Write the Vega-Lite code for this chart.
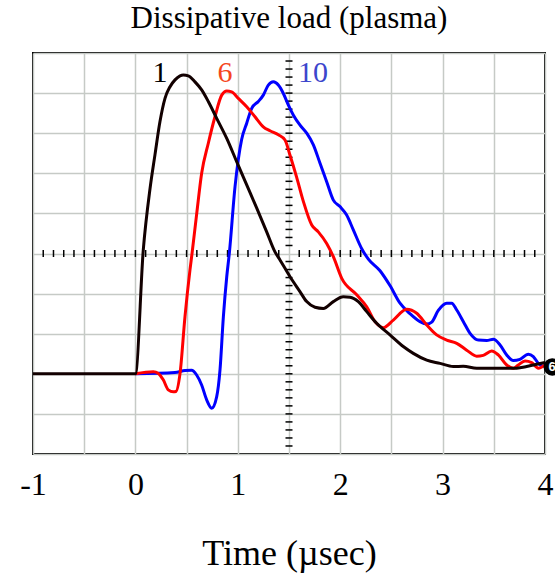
{
  "$schema": "https://vega.github.io/schema/vega-lite/v6.json",
  "autosize": {"type": "none"},
  "width": 512,
  "height": 401,
  "padding": {"left": 33, "top": 53, "right": 10, "bottom": 123},
  "background": "white",
  "title": {
    "text": "Dissipative load (plasma)",
    "font": "Liberation Serif, Times New Roman, serif",
    "fontSize": 31,
    "fontWeight": "normal",
    "color": "black",
    "baseline": "alphabetic",
    "anchor": "middle",
    "offset": -6
  },
  "config": {
    "view": {"stroke": "black", "strokeWidth": 2},
    "title": {"font": "Liberation Serif, Times New Roman, serif"},
    "text": {"font": "Liberation Serif, Times New Roman, serif"},
    "axis": {"gridColor": "#c6cac6", "gridWidth": 1.5, "gridOpacity": 1}
  },
  "datasets": {
    "curves": [
      {"t": -1, "v": 2.0, "s": "1"},
      {"t": 0.0, "v": 2.0, "s": "1"},
      {"t": 0.077, "v": 5.09, "s": "1"},
      {"t": 0.143, "v": 6.62, "s": "1"},
      {"t": 0.191, "v": 7.46, "s": "1"},
      {"t": 0.24, "v": 8.29, "s": "1"},
      {"t": 0.289, "v": 8.87, "s": "1"},
      {"t": 0.338, "v": 9.16, "s": "1"},
      {"t": 0.387, "v": 9.33, "s": "1"},
      {"t": 0.436, "v": 9.43, "s": "1"},
      {"t": 0.468, "v": 9.45, "s": "1"},
      {"t": 0.517, "v": 9.43, "s": "1"},
      {"t": 0.582, "v": 9.28, "s": "1"},
      {"t": 0.647, "v": 9.08, "s": "1"},
      {"t": 0.712, "v": 8.79, "s": "1"},
      {"t": 0.794, "v": 8.37, "s": "1"},
      {"t": 0.892, "v": 7.87, "s": "1"},
      {"t": 0.989, "v": 7.29, "s": "1"},
      {"t": 1.087, "v": 6.71, "s": "1"},
      {"t": 1.185, "v": 6.13, "s": "1"},
      {"t": 1.282, "v": 5.54, "s": "1"},
      {"t": 1.363, "v": 5.04, "s": "1"},
      {"t": 1.412, "v": 4.84, "s": "1"},
      {"t": 1.51, "v": 4.42, "s": "1"},
      {"t": 1.607, "v": 4.05, "s": "1"},
      {"t": 1.673, "v": 3.8, "s": "1"},
      {"t": 1.754, "v": 3.66, "s": "1"},
      {"t": 1.835, "v": 3.63, "s": "1"},
      {"t": 1.933, "v": 3.8, "s": "1"},
      {"t": 2.03, "v": 3.92, "s": "1"},
      {"t": 2.096, "v": 3.91, "s": "1"},
      {"t": 2.177, "v": 3.8, "s": "1"},
      {"t": 2.259, "v": 3.55, "s": "1"},
      {"t": 2.356, "v": 3.26, "s": "1"},
      {"t": 2.486, "v": 2.97, "s": "1"},
      {"t": 2.616, "v": 2.68, "s": "1"},
      {"t": 2.714, "v": 2.51, "s": "1"},
      {"t": 2.845, "v": 2.34, "s": "1"},
      {"t": 2.975, "v": 2.26, "s": "1"},
      {"t": 3.104, "v": 2.18, "s": "1"},
      {"t": 3.202, "v": 2.19, "s": "1"},
      {"t": 3.333, "v": 2.14, "s": "1"},
      {"t": 3.561, "v": 2.14, "s": "1"},
      {"t": 3.724, "v": 2.14, "s": "1"},
      {"t": 3.821, "v": 2.18, "s": "1"},
      {"t": 3.919, "v": 2.24, "s": "1"},
      {"t": 4.0, "v": 2.28, "s": "1"},

      {"t": 0.0, "v": 2.0, "s": "6"},
      {"t": 0.175, "v": 2.05, "s": "6"},
      {"t": 0.224, "v": 2.01, "s": "6"},
      {"t": 0.272, "v": 1.85, "s": "6"},
      {"t": 0.321, "v": 1.6, "s": "6"},
      {"t": 0.37, "v": 1.55, "s": "6"},
      {"t": 0.396, "v": 1.56, "s": "6"},
      {"t": 0.436, "v": 2.01, "s": "6"},
      {"t": 0.484, "v": 3.42, "s": "6"},
      {"t": 0.533, "v": 4.59, "s": "6"},
      {"t": 0.553, "v": 5.0, "s": "6"},
      {"t": 0.599, "v": 6.0, "s": "6"},
      {"t": 0.647, "v": 7.0, "s": "6"},
      {"t": 0.712, "v": 7.75, "s": "6"},
      {"t": 0.777, "v": 8.41, "s": "6"},
      {"t": 0.843, "v": 8.95, "s": "6"},
      {"t": 0.892, "v": 9.05, "s": "6"},
      {"t": 0.94, "v": 9.03, "s": "6"},
      {"t": 1.005, "v": 8.87, "s": "6"},
      {"t": 1.087, "v": 8.66, "s": "6"},
      {"t": 1.168, "v": 8.41, "s": "6"},
      {"t": 1.249, "v": 8.16, "s": "6"},
      {"t": 1.314, "v": 8.06, "s": "6"},
      {"t": 1.396, "v": 7.96, "s": "6"},
      {"t": 1.461, "v": 7.83, "s": "6"},
      {"t": 1.51, "v": 7.45, "s": "6"},
      {"t": 1.575, "v": 6.9, "s": "6"},
      {"t": 1.64, "v": 6.3, "s": "6"},
      {"t": 1.722, "v": 5.71, "s": "6"},
      {"t": 1.786, "v": 5.54, "s": "6"},
      {"t": 1.868, "v": 5.25, "s": "6"},
      {"t": 1.933, "v": 4.92, "s": "6"},
      {"t": 2.015, "v": 4.38, "s": "6"},
      {"t": 2.161, "v": 3.97, "s": "6"},
      {"t": 2.259, "v": 3.67, "s": "6"},
      {"t": 2.34, "v": 3.3, "s": "6"},
      {"t": 2.421, "v": 3.15, "s": "6"},
      {"t": 2.519, "v": 3.34, "s": "6"},
      {"t": 2.649, "v": 3.61, "s": "6"},
      {"t": 2.747, "v": 3.51, "s": "6"},
      {"t": 2.845, "v": 3.22, "s": "6"},
      {"t": 2.942, "v": 2.97, "s": "6"},
      {"t": 3.04, "v": 2.84, "s": "6"},
      {"t": 3.138, "v": 2.76, "s": "6"},
      {"t": 3.235, "v": 2.59, "s": "6"},
      {"t": 3.333, "v": 2.44, "s": "6"},
      {"t": 3.397, "v": 2.46, "s": "6"},
      {"t": 3.479, "v": 2.57, "s": "6"},
      {"t": 3.544, "v": 2.47, "s": "6"},
      {"t": 3.626, "v": 2.22, "s": "6"},
      {"t": 3.69, "v": 2.14, "s": "6"},
      {"t": 3.739, "v": 2.22, "s": "6"},
      {"t": 3.805, "v": 2.32, "s": "6"},
      {"t": 3.87, "v": 2.28, "s": "6"},
      {"t": 3.935, "v": 2.14, "s": "6"},
      {"t": 4.0, "v": 2.22, "s": "6"},

      {"t": 0.0, "v": 2.0, "s": "10"},
      {"t": 0.386, "v": 2.03, "s": "10"},
      {"t": 0.484, "v": 2.08, "s": "10"},
      {"t": 0.549, "v": 2.09, "s": "10"},
      {"t": 0.598, "v": 1.97, "s": "10"},
      {"t": 0.647, "v": 1.72, "s": "10"},
      {"t": 0.696, "v": 1.35, "s": "10"},
      {"t": 0.745, "v": 1.14, "s": "10"},
      {"t": 0.794, "v": 1.43, "s": "10"},
      {"t": 0.826, "v": 2.09, "s": "10"},
      {"t": 0.859, "v": 3.42, "s": "10"},
      {"t": 0.892, "v": 4.42, "s": "10"},
      {"t": 0.917, "v": 5.0, "s": "10"},
      {"t": 0.973, "v": 6.67, "s": "10"},
      {"t": 1.038, "v": 7.85, "s": "10"},
      {"t": 1.087, "v": 8.25, "s": "10"},
      {"t": 1.136, "v": 8.62, "s": "10"},
      {"t": 1.2, "v": 8.79, "s": "10"},
      {"t": 1.249, "v": 8.95, "s": "10"},
      {"t": 1.298, "v": 9.2, "s": "10"},
      {"t": 1.347, "v": 9.28, "s": "10"},
      {"t": 1.396, "v": 9.2, "s": "10"},
      {"t": 1.445, "v": 8.99, "s": "10"},
      {"t": 1.494, "v": 8.7, "s": "10"},
      {"t": 1.543, "v": 8.45, "s": "10"},
      {"t": 1.608, "v": 8.2, "s": "10"},
      {"t": 1.673, "v": 8.0, "s": "10"},
      {"t": 1.738, "v": 7.71, "s": "10"},
      {"t": 1.803, "v": 7.25, "s": "10"},
      {"t": 1.868, "v": 6.79, "s": "10"},
      {"t": 1.933, "v": 6.33, "s": "10"},
      {"t": 1.998, "v": 6.17, "s": "10"},
      {"t": 2.063, "v": 5.96, "s": "10"},
      {"t": 2.128, "v": 5.59, "s": "10"},
      {"t": 2.21, "v": 5.12, "s": "10"},
      {"t": 2.275, "v": 4.86, "s": "10"},
      {"t": 2.389, "v": 4.57, "s": "10"},
      {"t": 2.486, "v": 4.2, "s": "10"},
      {"t": 2.584, "v": 3.76, "s": "10"},
      {"t": 2.681, "v": 3.5, "s": "10"},
      {"t": 2.779, "v": 3.3, "s": "10"},
      {"t": 2.845, "v": 3.24, "s": "10"},
      {"t": 2.894, "v": 3.29, "s": "10"},
      {"t": 2.958, "v": 3.58, "s": "10"},
      {"t": 3.04, "v": 3.76, "s": "10"},
      {"t": 3.089, "v": 3.76, "s": "10"},
      {"t": 3.138, "v": 3.59, "s": "10"},
      {"t": 3.203, "v": 3.3, "s": "10"},
      {"t": 3.268, "v": 3.01, "s": "10"},
      {"t": 3.349, "v": 2.84, "s": "10"},
      {"t": 3.431, "v": 2.83, "s": "10"},
      {"t": 3.496, "v": 2.86, "s": "10"},
      {"t": 3.561, "v": 2.72, "s": "10"},
      {"t": 3.626, "v": 2.47, "s": "10"},
      {"t": 3.69, "v": 2.33, "s": "10"},
      {"t": 3.755, "v": 2.36, "s": "10"},
      {"t": 3.837, "v": 2.49, "s": "10"},
      {"t": 3.886, "v": 2.43, "s": "10"},
      {"t": 3.935, "v": 2.26, "s": "10"},
      {"t": 3.984, "v": 2.18, "s": "10"}
    ],
    "xticks": [
      {"t": -0.9}, {"t": -0.8}, {"t": -0.7}, {"t": -0.6}, {"t": -0.5}, {"t": -0.4}, {"t": -0.3}, {"t": -0.2}, {"t": -0.1}, {"t": 0.0},
      {"t": 0.1}, {"t": 0.2}, {"t": 0.3}, {"t": 0.4}, {"t": 0.5}, {"t": 0.6}, {"t": 0.7}, {"t": 0.8}, {"t": 0.9}, {"t": 1.0},
      {"t": 1.1}, {"t": 1.2}, {"t": 1.3}, {"t": 1.4}, {"t": 1.6}, {"t": 1.7}, {"t": 1.8}, {"t": 1.9}, {"t": 2.0},
      {"t": 2.1}, {"t": 2.2}, {"t": 2.3}, {"t": 2.4}, {"t": 2.5}, {"t": 2.6}, {"t": 2.7}, {"t": 2.8}, {"t": 2.9}, {"t": 3.0},
      {"t": 3.1}, {"t": 3.2}, {"t": 3.3}, {"t": 3.4}, {"t": 3.5}, {"t": 3.6}, {"t": 3.7}, {"t": 3.8}, {"t": 3.9}
    ],
    "yticks": [
      {"v": 0.2}, {"v": 0.4}, {"v": 0.6}, {"v": 0.8}, {"v": 1.0}, {"v": 1.2}, {"v": 1.4}, {"v": 1.6}, {"v": 1.8}, {"v": 2.0},
      {"v": 2.2}, {"v": 2.4}, {"v": 2.6}, {"v": 2.8}, {"v": 3.0}, {"v": 3.2}, {"v": 3.4}, {"v": 3.6}, {"v": 3.8}, {"v": 4.0},
      {"v": 4.2}, {"v": 4.4}, {"v": 4.6}, {"v": 4.8}, {"v": 5.2}, {"v": 5.4}, {"v": 5.6}, {"v": 5.8}, {"v": 6.0},
      {"v": 6.2}, {"v": 6.4}, {"v": 6.6}, {"v": 6.8}, {"v": 7.0}, {"v": 7.2}, {"v": 7.4}, {"v": 7.6}, {"v": 7.8}, {"v": 8.0},
      {"v": 8.2}, {"v": 8.4}, {"v": 8.6}, {"v": 8.8}, {"v": 9.0}, {"v": 9.2}, {"v": 9.4}, {"v": 9.6}, {"v": 9.8}
    ],
    "labels": [
      {"t": 0.24, "v": 9.28, "label": "1", "s": "1"},
      {"t": 0.875, "v": 9.28, "label": "6", "s": "6"},
      {"t": 1.735, "v": 9.28, "label": "10", "s": "10"}
    ],
    "marker": [
      {"t": 4.07, "v": 2.17, "label": "6"}
    ]
  },
  "layer": [
    {
      "data": {"name": "curves"},
      "mark": {"type": "line", "opacity": 0},
      "encoding": {
        "x": {
          "field": "t", "type": "quantitative",
          "scale": {"domain": [-1, 4], "nice": false, "zero": false},
          "axis": {
            "values": [-1, -0.5, 0, 0.5, 1, 1.5, 2, 2.5, 3, 3.5, 4],
            "labelExpr": "datum.value === -1 ? '-1' : (datum.value % 1 === 0 ? '' + datum.value : '')",
            "ticks": false, "tickSize": 0, "domain": false,
            "grid": true,
            "labelFont": "Liberation Serif", "labelFontSize": 32, "labelColor": "black",
            "labelPadding": 15, "labelFlush": false, "labelOverlap": false,
            "title": "Time (µsec)",
            "titleFont": "Liberation Serif", "titleFontSize": 36, "titleFontWeight": "normal",
            "titleColor": "black", "titlePadding": 36
          }
        },
        "y": {
          "field": "v", "type": "quantitative",
          "scale": {"domain": [0, 10], "nice": false, "zero": false},
          "axis": {
            "values": [0, 1, 2, 3, 4, 5, 6, 7, 8, 9, 10],
            "labels": false, "ticks": false, "domain": false, "grid": true, "title": null
          }
        }
      }
    },
    {
      "mark": {"type": "rule", "color": "black", "strokeWidth": 1.5},
      "encoding": {"y": {"datum": 5}}
    },
    {
      "mark": {"type": "rule", "color": "black", "strokeWidth": 1.5},
      "encoding": {"x": {"datum": 1.5}}
    },
    {
      "data": {"name": "xticks"},
      "mark": {"type": "tick", "orient": "vertical", "color": "black", "size": 7, "thickness": 1.5, "opacity": 1},
      "encoding": {
        "x": {"field": "t", "type": "quantitative"},
        "y": {"datum": 5}
      }
    },
    {
      "data": {"name": "yticks"},
      "mark": {"type": "tick", "orient": "horizontal", "color": "black", "size": 7, "thickness": 1.5, "opacity": 1},
      "encoding": {
        "y": {"field": "v", "type": "quantitative"},
        "x": {"datum": 1.5}
      }
    },
    {
      "data": {"name": "curves"},
      "transform": [{"filter": "datum.s === '10'"}],
      "mark": {"type": "line", "color": "#0000ff", "strokeWidth": 3, "interpolate": "monotone"},
      "encoding": {
        "x": {"field": "t", "type": "quantitative"},
        "y": {"field": "v", "type": "quantitative"}
      }
    },
    {
      "data": {"name": "curves"},
      "transform": [{"filter": "datum.s === '6'"}],
      "mark": {"type": "line", "color": "#ff0000", "strokeWidth": 3, "interpolate": "monotone"},
      "encoding": {
        "x": {"field": "t", "type": "quantitative"},
        "y": {"field": "v", "type": "quantitative"}
      }
    },
    {
      "data": {"name": "curves"},
      "transform": [{"filter": "datum.s === '1'"}],
      "mark": {"type": "line", "color": "#120000", "strokeWidth": 3, "interpolate": "monotone"},
      "encoding": {
        "x": {"field": "t", "type": "quantitative"},
        "y": {"field": "v", "type": "quantitative"}
      }
    },
    {
      "data": {"name": "labels"},
      "mark": {"type": "text", "font": "Liberation Serif, Times New Roman, serif", "fontSize": 30, "baseline": "alphabetic", "align": "center"},
      "encoding": {
        "x": {"field": "t", "type": "quantitative"},
        "y": {"field": "v", "type": "quantitative"},
        "text": {"field": "label"},
        "color": {
          "field": "s", "type": "nominal",
          "scale": {"domain": ["1", "6", "10"], "range": ["#000000", "#f5461e", "#3c46cc"]},
          "legend": null
        }
      }
    },
    {
      "data": {"name": "marker"},
      "mark": {"type": "point", "filled": true, "color": "black", "size": 300, "opacity": 1, "shape": "circle"},
      "encoding": {
        "x": {"field": "t", "type": "quantitative"},
        "y": {"field": "v", "type": "quantitative"}
      }
    },
    {
      "data": {"name": "marker"},
      "mark": {"type": "text", "font": "Liberation Sans", "fontSize": 13, "fontWeight": "bold", "color": "white", "baseline": "middle", "align": "center"},
      "encoding": {
        "x": {"field": "t", "type": "quantitative"},
        "y": {"field": "v", "type": "quantitative"},
        "text": {"field": "label"}
      }
    }
  ]
}
